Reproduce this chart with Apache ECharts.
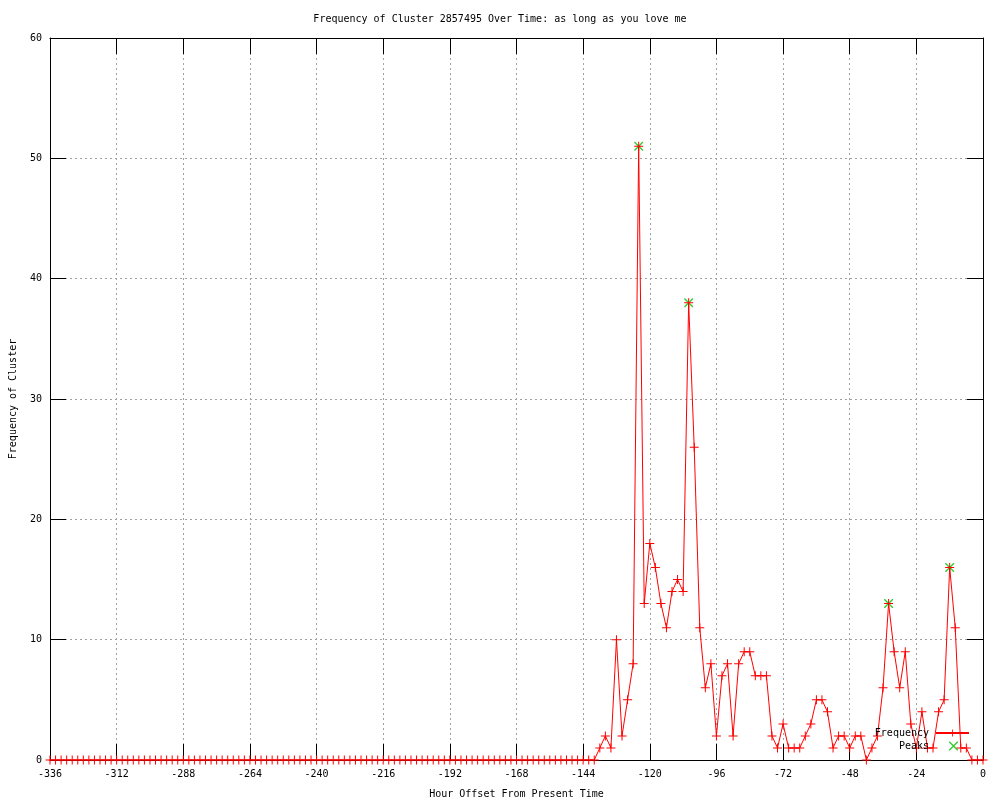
<!DOCTYPE html>
<html>
<head>
<meta charset="utf-8">
<script src="https://cdn.jsdelivr.net/npm/echarts@6/dist/echarts.min.js"></script>
<style>html,body{margin:0;padding:0;background:#fff}#c{width:1000px;height:800px}</style>
</head>
<body>
<div id="c"></div>
<script>
// Hour offsets (every 2 hours from -336 to 0)
const hourStart = -336, hourEnd = 0, hourStep = 2;
const xTicks = [-336,-312,-288,-264,-240,-216,-192,-168,-144,-120,-96,-72,-48,-24,0];
const yTicks = [0,10,20,30,40,50,60];

// Frequency values, one per 2-hour bucket from -336 to 0
const frequency = [
  0,0,0,0,0,0,0,0,0,0, 0,0,0,0,0,0,0,0,0,0,
  0,0,0,0,0,0,0,0,0,0, 0,0,0,0,0,0,0,0,0,0,
  0,0,0,0,0,0,0,0,0,0, 0,0,0,0,0,0,0,0,0,0,
  0,0,0,0,0,0,0,0,0,0, 0,0,0,0,0,0,0,0,0,0,
  0,0,0,0,0,0,0,0,0,0, 0,0,0,0,0,0,0,0,0,
  1,2,1,10,2,5,8,51,13,18,
  16,13,11,14,15,14,38,26,11,6,
  8,2,7,8,2,8,9,9,7,7,
  7,2,1,3,1,1,1,2,3,5,
  5,4,1,2,2,1,2,2,0,1,
  2,6,13,9,6,9,3,1,4,1,
  1,4,5,16,11,1,1,0,0,0
];
const peakHours = [-124, -106, -34, -12];
const peakValues = [51, 38, 13, 16];

const hours = [];
for (let h = hourStart; h <= hourEnd; h += hourStep) hours.push(h);
const freqData = hours.map((h, i) => [h, frequency[i]]);
const peakData = peakHours.map((h, i) => [h, peakValues[i]]);

const FONT = 'DejaVu Sans Mono';
const plusPath = 'path://M0,4H9V5H0Z M4,0H5V9H4Z';
const xPath = 'path://M0,0L1,0L9,8L9,9L8,9L0,1Z M8,0L9,0L9,1L1,9L0,9L0,8Z';

const chart = echarts.init(document.getElementById('c'), null, {renderer: 'canvas'});
function axisCommon() {
  return {
    axisLine: {show: true, onZero: false, lineStyle: {color: '#000', width: 1}},
    axisTick: {show: true, inside: true, length: 16, lineStyle: {color: '#000', width: 1}}
  };
}
chart.setOption({
  animation: false,
  backgroundColor: '#fff',
  textStyle: {fontFamily: FONT},
  title: {
    text: 'Frequency of Cluster 2857495 Over Time: as long as you love me',
    left: 'center', top: 9,
    textStyle: {fontFamily: FONT, fontSize: 10, fontWeight: 'normal', color: '#000'}
  },
  grid: {left: 50, right: 17, top: 38, bottom: 40, containLabel: false, outerBoundsMode: 'none'},
  legend: [
    {
      data: ['Frequency'], right: 30, top: 728, padding: 0, align: 'right',
      itemWidth: 33, itemHeight: 9, itemGap: 0,
      textStyle: {fontFamily: FONT, fontSize: 10, color: '#000', padding: [0, 2, 0, 0]}
    },
    {
      data: ['Peaks'], right: 42, top: 741, padding: 0, align: 'right',
      itemWidth: 9, itemHeight: 9, itemGap: 0,
      textStyle: {fontFamily: FONT, fontSize: 10, color: '#000', padding: [0, 15, 0, 0]}
    }
  ],
  xAxis: [
    Object.assign({
      type: 'value', min: -336, max: 0, interval: 24, position: 'bottom',
      name: 'Hour Offset From Present Time', nameLocation: 'middle', nameGap: 29,
      nameTextStyle: {fontFamily: FONT, fontSize: 10, color: '#000'},
      axisLabel: {fontFamily: FONT, fontSize: 10, color: '#000', margin: 9,
        formatter: v => xTicks.indexOf(v) >= 0 ? String(v) : ''},
      splitLine: {show: true, lineStyle: {color: '#a0a0a0', type: [2, 3], width: 1}}
    }, axisCommon()),
    Object.assign({
      type: 'value', min: -336, max: 0, interval: 24, position: 'top',
      axisLabel: {show: false}, splitLine: {show: false}
    }, axisCommon())
  ],
  yAxis: [
    Object.assign({
      type: 'value', min: 0, max: 60, interval: 10, position: 'left',
      name: 'Frequency of Cluster', nameLocation: 'middle', nameGap: 32,
      nameTextStyle: {fontFamily: FONT, fontSize: 10, color: '#000'},
      axisLabel: {fontFamily: FONT, fontSize: 10, color: '#000', margin: 8,
        formatter: v => yTicks.indexOf(v) >= 0 ? String(v) : ''},
      splitLine: {show: true, lineStyle: {color: '#a0a0a0', type: [2, 3], width: 1}}
    }, axisCommon()),
    Object.assign({
      type: 'value', min: 0, max: 60, interval: 10, position: 'right',
      axisLabel: {show: false}, splitLine: {show: false}
    }, axisCommon())
  ],
  series: [
    {
      name: 'Frequency', type: 'line', data: freqData,
      xAxisIndex: 0, yAxisIndex: 0,
      showSymbol: true, showAllSymbol: true,
      symbol: plusPath, symbolSize: 9,
      lineStyle: {color: '#ff0000', width: 1},
      itemStyle: {color: '#ff0000', borderWidth: 0},
      z: 3
    },
    {
      name: 'Peaks', type: 'scatter', data: peakData,
      xAxisIndex: 0, yAxisIndex: 0,
      symbol: xPath, symbolSize: 9,
      itemStyle: {color: '#00c000', borderWidth: 0},
      z: 2
    }
  ]
});
</script>
</body>
</html>
